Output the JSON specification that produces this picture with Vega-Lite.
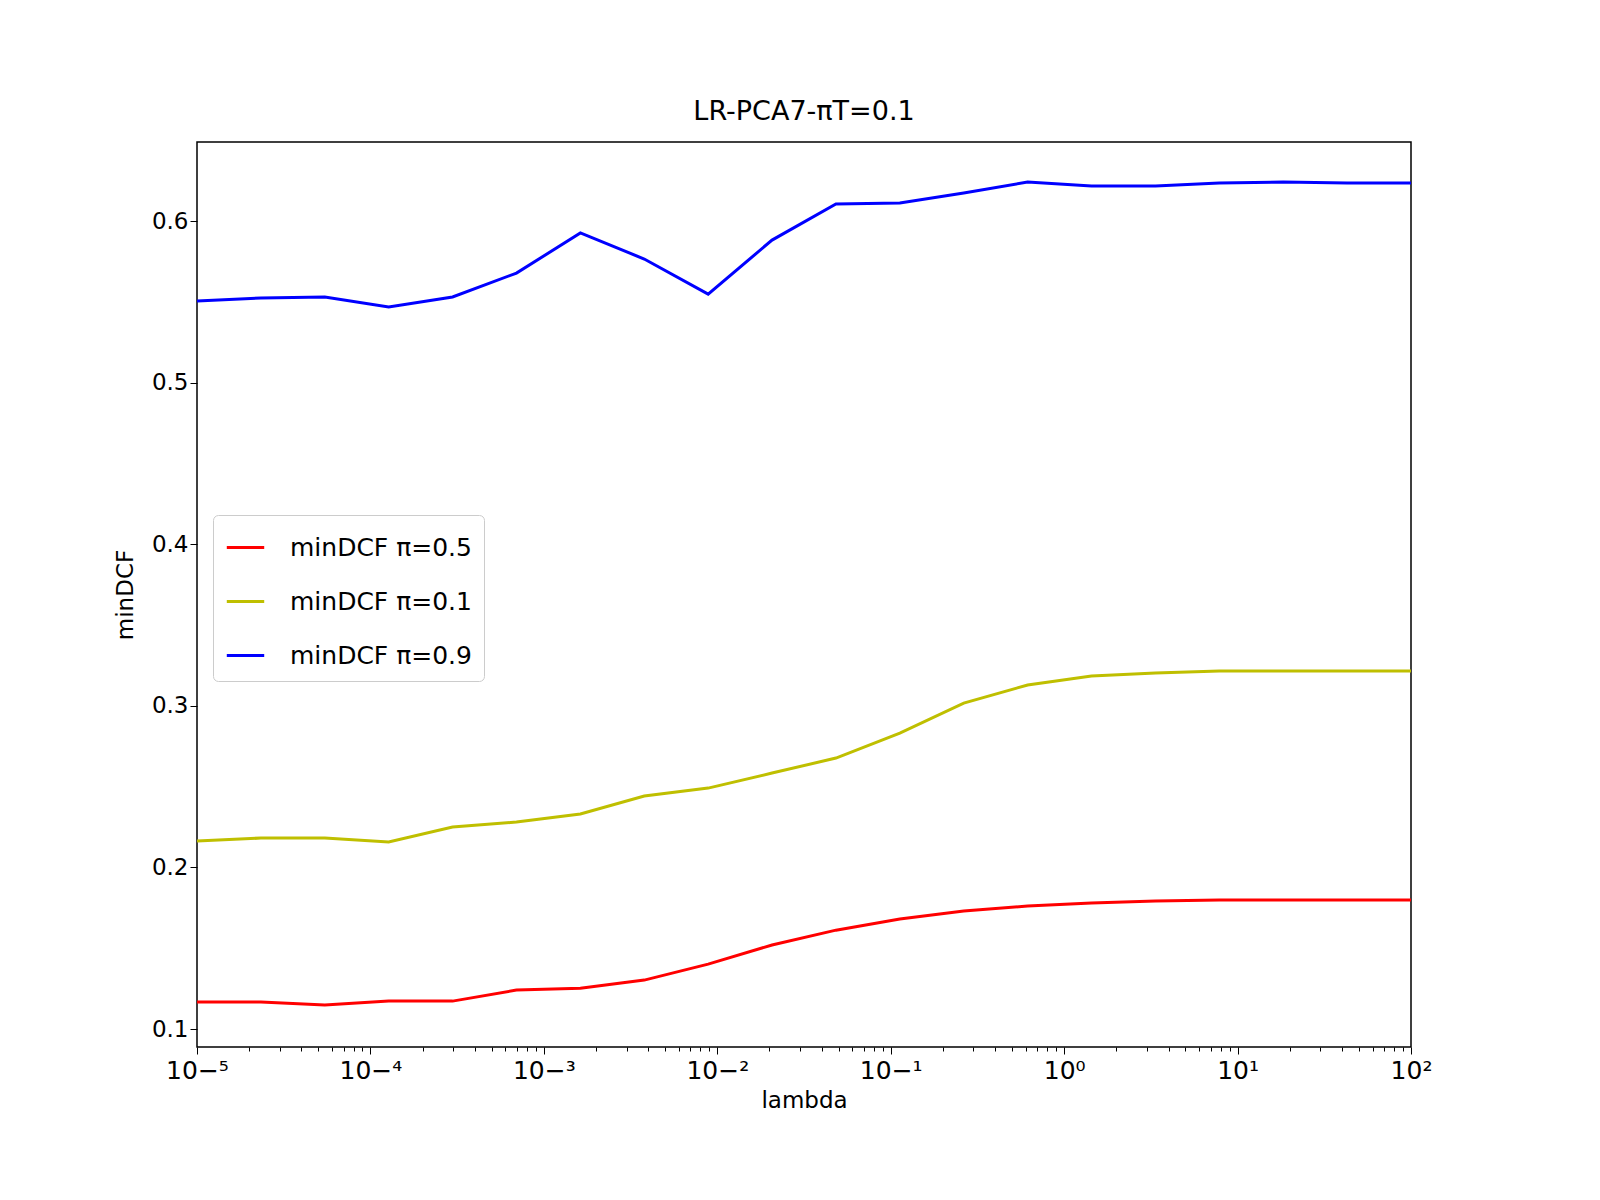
{
  "$schema": "https://vega.github.io/schema/vega-lite/v6.json",
  "autosize": "none",
  "padding": {"left": 197, "top": 142, "right": 189, "bottom": 153},
  "width": 1214,
  "height": 905,
  "background": "white",
  "title": {"text": "LR-PCA7-πT=0.1", "fontSize": 27, "font": "DejaVu Sans", "fontWeight": "normal", "offset": 16},
  "config": {"font": "DejaVu Sans", "view": {"stroke": "black", "strokeWidth": 1.5}},
  "data": {"values": [
    {"lambda": 1e-5, "s": "minDCF π=0.5", "v": 0.1167}, {"lambda": 2.336e-5, "s": "minDCF π=0.5", "v": 0.1167}, {"lambda": 5.456e-5, "s": "minDCF π=0.5", "v": 0.1149}, {"lambda": 1.274e-4, "s": "minDCF π=0.5", "v": 0.1173}, {"lambda": 2.976e-4, "s": "minDCF π=0.5", "v": 0.1173}, {"lambda": 6.952e-4, "s": "minDCF π=0.5", "v": 0.1241}, {"lambda": 1.624e-3, "s": "minDCF π=0.5", "v": 0.1253}, {"lambda": 3.793e-3, "s": "minDCF π=0.5", "v": 0.1303}, {"lambda": 8.859e-3, "s": "minDCF π=0.5", "v": 0.1402}, {"lambda": 2.069e-2, "s": "minDCF π=0.5", "v": 0.152}, {"lambda": 4.833e-2, "s": "minDCF π=0.5", "v": 0.1612}, {"lambda": 0.1129, "s": "minDCF π=0.5", "v": 0.1681}, {"lambda": 0.2637, "s": "minDCF π=0.5", "v": 0.173}, {"lambda": 0.6158, "s": "minDCF π=0.5", "v": 0.1761}, {"lambda": 1.438, "s": "minDCF π=0.5", "v": 0.178}, {"lambda": 3.36, "s": "minDCF π=0.5", "v": 0.1792}, {"lambda": 7.848, "s": "minDCF π=0.5", "v": 0.1798}, {"lambda": 18.33, "s": "minDCF π=0.5", "v": 0.1798}, {"lambda": 42.81, "s": "minDCF π=0.5", "v": 0.1798}, {"lambda": 100, "s": "minDCF π=0.5", "v": 0.1798},
    {"lambda": 1e-5, "s": "minDCF π=0.1", "v": 0.2163}, {"lambda": 2.336e-5, "s": "minDCF π=0.1", "v": 0.2182}, {"lambda": 5.456e-5, "s": "minDCF π=0.1", "v": 0.2182}, {"lambda": 1.274e-4, "s": "minDCF π=0.1", "v": 0.2157}, {"lambda": 2.976e-4, "s": "minDCF π=0.1", "v": 0.225}, {"lambda": 6.952e-4, "s": "minDCF π=0.1", "v": 0.2281}, {"lambda": 1.624e-3, "s": "minDCF π=0.1", "v": 0.2331}, {"lambda": 3.793e-3, "s": "minDCF π=0.1", "v": 0.2442}, {"lambda": 8.859e-3, "s": "minDCF π=0.1", "v": 0.2491}, {"lambda": 2.069e-2, "s": "minDCF π=0.1", "v": 0.2584}, {"lambda": 4.833e-2, "s": "minDCF π=0.1", "v": 0.2677}, {"lambda": 0.1129, "s": "minDCF π=0.1", "v": 0.2831}, {"lambda": 0.2637, "s": "minDCF π=0.1", "v": 0.3017}, {"lambda": 0.6158, "s": "minDCF π=0.1", "v": 0.3129}, {"lambda": 1.438, "s": "minDCF π=0.1", "v": 0.3184}, {"lambda": 3.36, "s": "minDCF π=0.1", "v": 0.3203}, {"lambda": 7.848, "s": "minDCF π=0.1", "v": 0.3215}, {"lambda": 18.33, "s": "minDCF π=0.1", "v": 0.3215}, {"lambda": 42.81, "s": "minDCF π=0.1", "v": 0.3215}, {"lambda": 100, "s": "minDCF π=0.1", "v": 0.3215},
    {"lambda": 1e-5, "s": "minDCF π=0.9", "v": 0.5505}, {"lambda": 2.336e-5, "s": "minDCF π=0.9", "v": 0.5524}, {"lambda": 5.456e-5, "s": "minDCF π=0.9", "v": 0.553}, {"lambda": 1.274e-4, "s": "minDCF π=0.9", "v": 0.5468}, {"lambda": 2.976e-4, "s": "minDCF π=0.9", "v": 0.553}, {"lambda": 6.952e-4, "s": "minDCF π=0.9", "v": 0.5678}, {"lambda": 1.624e-3, "s": "minDCF π=0.9", "v": 0.5926}, {"lambda": 3.793e-3, "s": "minDCF π=0.9", "v": 0.5765}, {"lambda": 8.859e-3, "s": "minDCF π=0.9", "v": 0.5548}, {"lambda": 2.069e-2, "s": "minDCF π=0.9", "v": 0.5882}, {"lambda": 4.833e-2, "s": "minDCF π=0.9", "v": 0.6105}, {"lambda": 0.1129, "s": "minDCF π=0.9", "v": 0.6111}, {"lambda": 0.2637, "s": "minDCF π=0.9", "v": 0.6173}, {"lambda": 0.6158, "s": "minDCF π=0.9", "v": 0.6241}, {"lambda": 1.438, "s": "minDCF π=0.9", "v": 0.6217}, {"lambda": 3.36, "s": "minDCF π=0.9", "v": 0.6217}, {"lambda": 7.848, "s": "minDCF π=0.9", "v": 0.6235}, {"lambda": 18.33, "s": "minDCF π=0.9", "v": 0.6241}, {"lambda": 42.81, "s": "minDCF π=0.9", "v": 0.6235}, {"lambda": 100, "s": "minDCF π=0.9", "v": 0.6235}
  ]},
  "encoding": {
    "x": {"field": "lambda", "type": "quantitative",
      "scale": {"type": "log", "domain": [1e-5, 100], "nice": false},
      "axis": {"title": "lambda", "titleFontSize": 23, "titleFontWeight": "normal", "titleColor": "black", "titlePadding": 6,
        "values": [1e-5, 1e-4, 1e-3, 1e-2, 1e-1, 1, 10, 100],
        "labelExpr": "'10' + replace(replace(replace(replace(replace(replace(replace(replace(replace(format(round(log(datum.value)/LN10), 'd'), '-', '⁻'), '0', '⁰'), '1', '¹'), '2', '²'), '3', '³'), '4', '⁴'), '5', '⁵'), '6', '⁶'), '7', '⁷')",
        "labelFontSize": 25, "labelColor": "black", "labelFlush": false, "tickColor": "black", "tickSize": 7, "grid": false, "domain": false, "labelPadding": 4, "orient": "bottom"}},
    "y": {"field": "v", "type": "quantitative",
      "scale": {"domain": [0.0889, 0.6489], "nice": false, "zero": false},
      "axis": {"title": "minDCF", "titleFontSize": 23, "titleFontWeight": "normal", "titleColor": "black", "titlePadding": 14,
        "values": [0.1, 0.2, 0.3, 0.4, 0.5, 0.6], "format": ".1f",
        "labelFontSize": 23, "labelColor": "black", "tickColor": "black", "tickSize": 7, "grid": false, "domain": false}}
  },
  "layer": [
    {
      "mark": {"type": "line", "strokeWidth": 3},
      "encoding": {
        "color": {"field": "s", "type": "nominal",
          "scale": {"domain": ["minDCF π=0.5", "minDCF π=0.1", "minDCF π=0.9"], "range": ["#ff0000", "#bfbf00", "#0000ff"]},
          "legend": {"title": null, "orient": "none", "legendX": 16, "legendY": 373, "symbolType": "stroke", "symbolSize": 1400, "symbolStrokeWidth": 3, "labelLimit": 0,
            "labelFontSize": 25, "labelColor": "black", "rowPadding": 20, "padding": 12, "strokeColor": "#cccccc", "fillColor": "white", "cornerRadius": 5, "labelOffset": 24}}
      }
    },
    {
      "mark": {"type": "line", "opacity": 0},
      "encoding": {
        "x": {"field": "lambda", "type": "quantitative",
          "scale": {"type": "log", "domain": [1e-5, 100], "nice": false},
          "axis": {"title": null, "orient": "bottom", "labels": false, "grid": false, "domain": false, "tickColor": "black", "tickSize": 4,
            "values": [2e-5,3e-5,4e-5,5e-5,6e-5,7e-5,8e-5,9e-5,2e-4,3e-4,4e-4,5e-4,6e-4,7e-4,8e-4,9e-4,2e-3,3e-3,4e-3,5e-3,6e-3,7e-3,8e-3,9e-3,2e-2,3e-2,4e-2,5e-2,6e-2,7e-2,8e-2,9e-2,0.2,0.3,0.4,0.5,0.6,0.7,0.8,0.9,2,3,4,5,6,7,8,9,20,30,40,50,60,70,80,90]}},
        "detail": {"field": "s"}
      }
    }
  ],
  "resolve": {"axis": {"x": "independent"}}
}
